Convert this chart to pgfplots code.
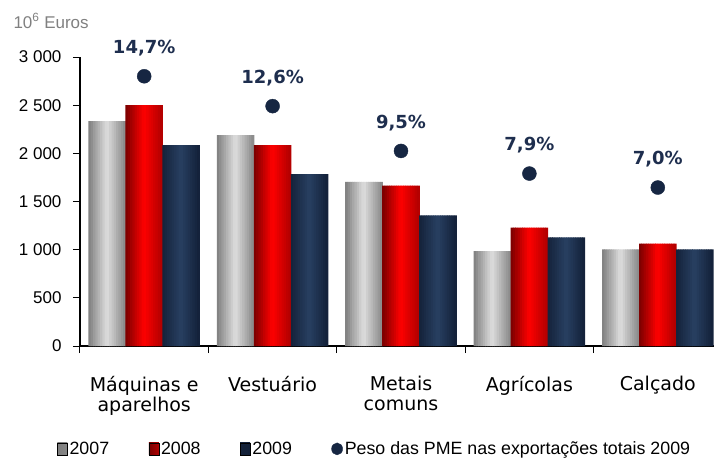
\documentclass[border=0pt]{standalone}
\usepackage{fontspec}
\setmainfont{Liberation Sans}
\newfontfamily\verd{DejaVu Sans}
\usepackage{pgfplots}
\usepackage{pgfplotstable}
\pgfplotsset{compat=1.18}

\definecolor{navy}{RGB}{22,38,66}
\definecolor{pctblue}{RGB}{30,46,78}
\definecolor{greyA}{RGB}{125,125,125}
\definecolor{greyB}{RGB}{222,222,222}
\definecolor{greyC}{RGB}{135,135,135}
\definecolor{redA}{RGB}{120,0,0}
\definecolor{redB}{RGB}{255,0,0}
\definecolor{redC}{RGB}{175,0,0}
\definecolor{navyA}{RGB}{20,34,58}
\definecolor{navyB}{RGB}{40,64,98}
\definecolor{navyC}{RGB}{18,32,56}

% values in 10^6 euros
\pgfplotstableread{
x y
0 2335
1 2190
2 1705
3 985
4 1002
}\dataA
\pgfplotstableread{
x y
0 2500
1 2085
2 1665
3 1228
4 1064
}\dataB
\pgfplotstableread{
x y
0 2085
1 1785
2 1355
3 1128
4 1002
}\dataC
% share of SMEs in total exports 2009
\pgfplotstableread{
x y lab
0 2800 {14,7\%}
1 2490 {12,6\%}
2 2025 {9,5\%}
3 1790 {7,9\%}
4 1645 {7,0\%}
}\dataD

% one bar series drawn as 16 narrow stripes, to imitate the cylinder shading
\newcommand\shadedbars[5]{%
  \foreach \i in {0,...,15}{%
    \pgfmathsetmacro\sh{#2-18.5+(\i+0.5)*37/16}%
    \ifnum\i<8
      \pgfmathtruncatemacro\p{(\i+0.5)/8*100}\edef\col{#4!\p!#3}%
    \else
      \pgfmathtruncatemacro\p{(\i-7.5)/8*100}\edef\col{#5!\p!#4}%
    \fi
    \edef\next{\noexpand\addplot[ybar, bar width=2.9pt, bar shift=\sh pt, draw=none, fill=\col, forget plot] table[x=x, y=y] {\noexpand#1};}%
    \next
  }%
}

\begin{document}
\begin{tikzpicture}
\begin{axis}[
    scale only axis,
    width=642pt, height=289pt,
    xmin=-0.5, xmax=4.5,
    ymin=0, ymax=3000,
    axis lines=left,
    axis line style={-, line width=1.6pt},
    tick align=outside,
    tick style={black, line width=1pt},
    major tick length=7pt,
    ytick={0,500,...,3000},
    yticklabels={0,500,1 000,1 500,2 000,2 500,3 000},
    y tick label style={font=\fontsize{17}{20}\selectfont, xshift=-8pt},
    xtick={-0.5,0.5,1.5,2.5,3.5},
    xticklabels={},
    extra x ticks={0,1,2,3,4},
    extra x tick labels={M\'aquinas e\\aparelhos,Vestu\'ario,Metais\\comuns,Agr\'icolas,Cal\c{c}ado},
    extra x tick style={major tick length=0pt,
        tick label style={font=\verd\fontsize{19}{20}\selectfont, align=center, anchor=north, yshift=-27pt}},
    legend columns=4,
    legend cell align=left,
    legend style={draw=none, fill=none, at={(axis description cs:-0.0405,-0.356)}, anchor=west,
        font=\fontsize{17.8}{20}\selectfont},
]
\shadedbars{\dataA}{-37}{greyA}{greyB}{greyC}
\shadedbars{\dataB}{0}{redA}{redB}{redC}
\shadedbars{\dataC}{37}{navyA}{navyB}{navyC}

\addlegendimage{legend image code/.code={\path[left color=greyA, middle color=greyB, right color=greyC] (0pt,-6pt) rectangle (10pt,6pt);}}
\addlegendentry{\makebox[77pt][l]{2007}}
\addlegendimage{legend image code/.code={\path[left color=redA, middle color=redB, right color=redC] (0pt,-6pt) rectangle (10pt,6pt);}}
\addlegendentry{\makebox[77pt][l]{2008}}
\addlegendimage{legend image code/.code={\path[left color=navyA, middle color=navyB, right color=navyC] (0pt,-6pt) rectangle (10pt,6pt);}}
\addlegendentry{\makebox[77pt][l]{2009}}

\addplot[only marks, mark=*, mark size=7pt, color=navy,
    point meta=explicit symbolic, nodes near coords,
    every node near coord/.style={anchor=center, yshift=28pt, text=pctblue,
        font=\verd\bfseries\fontsize{18}{20}\selectfont},
    legend image code/.code={\fill[navy] (5.5pt,0pt) ellipse (5.5pt and 6pt);}]
    table[x=x, y=y, meta=lab] {\dataD};
\addlegendentry{Peso das PME nas exportações totais 2009}
\end{axis}
\node[anchor=base west, text=gray, font=\fontsize{17}{20}\selectfont] at (-70pt,318pt) {10\textsuperscript{6} Euros};
\pgfresetboundingbox
\path[use as bounding box] (-80pt,-113pt) rectangle (634pt,346pt);
\end{tikzpicture}
\end{document}
